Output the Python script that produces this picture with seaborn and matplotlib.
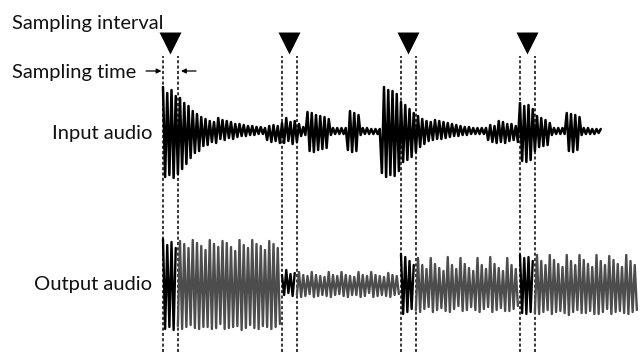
import numpy as np
import pandas as pd
import seaborn as sns
import matplotlib.pyplot as plt

sns.set_theme(style='white')
plt.rcParams['font.family'] = ['Lato', 'DejaVu Sans']  # set after set_theme

# signed peak heights, one row = one sampling-time slice (7 samples)
input_peaks = [
    [44, -46, 38, -44, 41, -47, 35],
    [-43, 33, -38, 28, -33, 25, -27],
    [20, -22, 17, -20, 14, -15, 12],
    [-14, 10, -11, 9, -12, 13, -8],
    [11, -9, 10, -7, 9, -8, 7],
    [-6, 7, -5, 6, -5, 5, -4],
    [5, -4, 4, -3, 4, -3, 3],
    [-9, 5, -11, 6, -10, 5, -12],
    [8, -12, 13, -10, 9, -13, 10],
    [-11, 7, -5, 4, -4, 19, -20],
    [18, -21, 16, -19, 15, -18, 14],
    [-17, 12, -4, 3, -3, 3, -3],
    [3, -3, 3, -19, 20, -21, 18],
    [-20, 16, -4, 3, -3, 3, -3],
    [2, -3, 2, -3, 2, -42, 44],
    [-46, 41, -44, 40, -45, 37, -40],
    [29, -31, 26, -29, 22, -26, 18],
    [-21, 15, -16, 12, -13, 10, -10],
    [9, -9, 11, -8, 10, -8, 9],
    [-7, 8, -6, 7, -5, 6, -5],
    [5, -4, 4, -4, 4, -3, 3],
    [-3, 3, -3, 3, -3, 3, -9],
    [6, -11, 5, -12, 10, -11, 9],
    [-12, 7, -10, 7, -9, 5, -11],
    [28, -30, 25, -31, 26, -29, 22],
    [-20, 15, -16, 13, -15, 11, -14],
    [8, -4, 3, -3, 3, -3, 3],
    [-3, 18, -20, 17, -21, 16, -19],
    [14, -4, 3, -3, 3, -3, 2],
    [-3, 2, -2, 2],
]

output_peaks = [
    [44, -46, 38, -44, 41, -47, 35],
    [-43, 42, -46, 39, -44, 35, -42],
    [43, -45, 40, -46, 37, -44, 33],
    [-44, 43, -46, 39, -45, 36, -41],
    [42, -46, 40, -45, 36, -44, 32],
    [-43, 43, -47, 38, -45, 35, -42],
    [43, -45, 39, -46, 37, -43, 33],
    [-44, 42, -46, 39, -44, 35, -41],
    [8, -12, 13, -10, 9, -13, 10],
    [-12, 11, -14, 8, -13, 7, -11],
    [11, -14, 8, -13, 7, -12, 6],
    [-13, 11, -14, 8, -12, 7, -11],
    [11, -13, 8, -14, 7, -12, 6],
    [-12, 11, -14, 8, -13, 7, -10],
    [11, -14, 8, -13, 7, -12, 6],
    [-13, 10, -14, 8, -12, 7, -11],
    [29, -31, 26, -29, 22, -26, 18],
    [-27, 25, -29, 18, -26, 14, -24],
    [25, -29, 19, -27, 15, -25, 12],
    [-28, 26, -29, 18, -26, 14, -23],
    [25, -28, 19, -27, 15, -24, 12],
    [-27, 25, -29, 18, -26, 14, -24],
    [26, -29, 19, -27, 15, -25, 12],
    [-28, 25, -28, 18, -26, 14, -23],
    [28, -30, 25, -31, 26, -29, 22],
    [-30, 28, -31, 22, -29, 18, -27],
    [28, -31, 23, -29, 19, -28, 16],
    [-30, 28, -32, 22, -29, 18, -27],
    [28, -30, 23, -30, 19, -28, 16],
    [-31, 28, -31, 22, -29, 18, -26],
    [27, -31, 23, -29, 19, -28, 16],
    [-30, 28, -31, 22, -29, 18, -27],
]

window_start = [0, 56, 112, 168]   # sample where each sampling time begins
window_len = 7                     # samples per sampling time
row_labels = ['Input audio', 'Output audio']

step = 2.125      # pixels per sample
x0 = 163          # pixel of sample 0
in_base, out_base = 221, 69

in_amp = np.concatenate([np.array(r, dtype=float) for r in input_peaks])
df_in = pd.DataFrame({'t': np.arange(len(in_amp)), 'y': in_base + in_amp})

sampled = [s // window_len for s in window_start]
rows = []
run = -1
prev = None
for c, chunk in enumerate(output_peaks):
    kind = 'sampled' if c in sampled else 'looped'
    if kind != prev:
        run += 1
        prev = kind
    for k, a in enumerate(chunk):
        rows.append({'t': c * window_len + k, 'y': out_base + a, 'kind': kind, 'run': run})
df_out = pd.DataFrame(rows)

fig = plt.figure(figsize=(6.44, 3.52), dpi=100)
ax = fig.add_axes([0, 0, 1, 1])
ax.set_xlim(-x0 / step, (644 - x0) / step)
ax.set_ylim(0, 352)
ax.axis('off')

# sampling-time borders
edges = [s for s in window_start] + [s + window_len for s in window_start]
ax.vlines(edges, 0, 296, colors='black', linestyles=(0, (2, 1.5)), lw=1.1, zorder=1)

sns.lineplot(data=df_in, x='t', y='y', color='black', lw=1.8, estimator=None, ax=ax, zorder=3)
sns.lineplot(data=df_out, x='t', y='y', hue='kind', units='run', estimator=None,
             palette={'sampled': 'black', 'looped': '#4d4d4d'}, lw=1.7,
             legend=False, ax=ax, zorder=3)

# sampling interval markers
sns.scatterplot(x=[s + window_len / 2 for s in window_start], y=[309] * len(window_start),
                marker='v', s=250, color='black', linewidth=0, ax=ax, zorder=4)

# text layer in pixel coordinates
lab = fig.add_axes([0, 0, 1, 1])
lab.set_xlim(0, 644)
lab.set_ylim(352, 0)
lab.axis('off')
lab.patch.set_alpha(0)

fs = 14.5
lab.text(12, 29, 'Sampling interval', fontsize=fs, color='#111111', va='baseline')
lab.text(12, 78, 'Sampling time', fontsize=fs, color='#111111', va='baseline')
lab.text(152, 139, row_labels[0], fontsize=fs, color='#111111', ha='right', va='baseline')
lab.text(152, 290, row_labels[1], fontsize=fs, color='#111111', ha='right', va='baseline')

arrow = dict(arrowstyle='-|>', color='black', lw=0.9, mutation_scale=7, shrinkA=0, shrinkB=0)
lab.annotate('', xy=(161.5, 71), xytext=(146, 71), arrowprops=arrow)
lab.annotate('', xy=(181, 71), xytext=(196, 71), arrowprops=arrow)

fig.savefig('out.png', dpi=100)
